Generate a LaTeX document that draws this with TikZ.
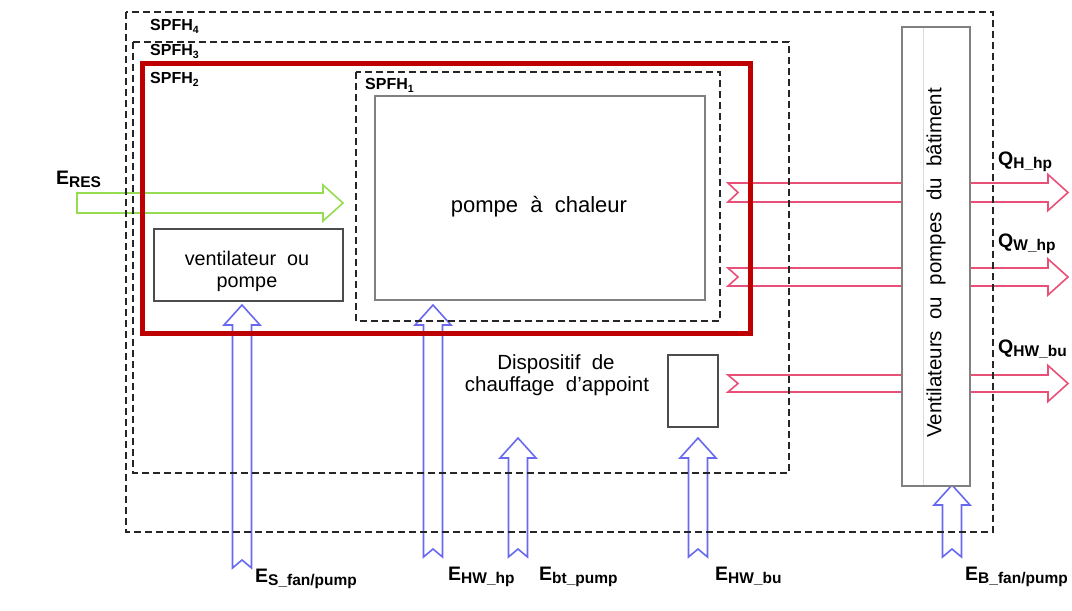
\documentclass[tikz,border=0pt]{standalone}
\usepackage{fontspec}
\setmainfont{Liberation Sans}
\definecolor{pinkc}{RGB}{232,80,120}
\definecolor{bluec}{RGB}{105,105,240}
\definecolor{greenc}{RGB}{150,220,80}
\definecolor{redc}{RGB}{190,0,0}
\newcommand\harrow[8]{% style, x1, x2, y, w, h, L, n
  \draw[#1] ({#2},{#4-#5}) -- ({#3-#7},{#4-#5}) -- ({#3-#7},{#4-#6}) -- ({#3},{#4})
    -- ({#3-#7},{#4+#6}) -- ({#3-#7},{#4+#5}) -- ({#2},{#4+#5}) -- ({#2+#8},{#4}) -- cycle;}
\newcommand\uparr[8]{% style, x, ytail, ytip, w, h, L, n
  \draw[#1] ({#2-#5},{#3}) -- ({#2-#5},{#4+#7}) -- ({#2-#6},{#4+#7}) -- ({#2},{#4})
    -- ({#2+#6},{#4+#7}) -- ({#2+#5},{#4+#7}) -- ({#2+#5},{#3}) -- ({#2},{#3-#8}) -- cycle;}
\newcommand\lab[2]{{\fontsize{19.5}{19}\selectfont\bfseries #1}\raisebox{-3.5pt}{\fontsize{15.5}{15}\selectfont\bfseries #2}}
\newcommand\spfh[1]{{\fontsize{16}{16}\selectfont\bfseries SPFH\raisebox{-3pt}{\fontsize{10.5}{10}\selectfont #1}}}
\begin{document}
\begin{tikzpicture}[x=1pt,y=-1pt,
  dashbox/.style={draw=black!85, line width=1.8pt, dash pattern=on 7pt off 4pt},
  redbox/.style={draw=redc, line width=5pt},
  graybox/.style={draw=black!50, line width=1.3pt},
  darkbox/.style={draw=black!70, line width=1.3pt},
  pinkarr/.style={draw=pinkc, line width=1.6pt, line join=miter},
  bluearr/.style={draw=bluec, line width=1.6pt, line join=miter},
  greenarr/.style={draw=greenc, line width=1.6pt, line join=miter},
  txt/.style={inner sep=0pt, font=\fontsize{22}{22}\selectfont, align=center},
  lbl/.style={inner sep=0pt, anchor=base west}]
\useasboundingbox (0,0) rectangle (1072,611);
\fill[white] (0,0) rectangle (1072,611);

% input / output arrows
\harrow{greenarr}{77}{343}{203}{10}{18}{20}{0}
\harrow{pinkarr}{728}{1068}{192.5}{9.5}{18}{20}{10}
\harrow{pinkarr}{728}{1068}{277}{9}{18}{20}{10}
\harrow{pinkarr}{728}{1068}{383.5}{8.5}{18}{20}{10}
\uparr{bluearr}{242}{568}{305}{9.5}{18}{20}{8}
\uparr{bluearr}{433}{557}{305}{9.5}{18}{20}{8}
\uparr{bluearr}{518}{557}{438}{9.5}{18}{20}{8}
\uparr{bluearr}{698}{557}{438}{9.5}{18}{20}{8}
\uparr{bluearr}{952}{557}{485}{9.5}{18}{20}{8}

% system boundaries
\draw[dashbox] (126,12) rectangle (993,532);
\draw[dashbox] (133,42) rectangle (789,473);
\draw[redbox] (142,63) rectangle (750,333);
\draw[dashbox] (356,72) rectangle (720,321);

% components
\draw[graybox] (375,96) rectangle (705,300);
\draw[darkbox] (154,229) rectangle (343,301);
\draw[darkbox] (668,355) rectangle (718,427);
\draw[graybox, fill=white] (902,27) rectangle (970,486);
\draw[black!15, line width=1pt] (923,28) -- (923,485);

% texts
\node[lbl] (s4) at (150,30) {\spfh{4}};
\node[lbl] (s3) at (150,55) {\spfh{3}};
\node[lbl] (s2) at (150,83) {\spfh{2}};
\node[lbl] (s1) at (365,89) {\spfh{1}};
\node[txt, anchor=base] (hp) at (539,212) {pompe\ \ à\ \ chaleur};
\node[txt, anchor=base, font=\fontsize{19.8}{22}\selectfont] (ven) at (247,265) {ventilateur\ \ ou};
\node[txt, anchor=base, font=\fontsize{19.8}{22}\selectfont] (ven2) at (247,287) {pompe};
\node[txt, anchor=base, font=\fontsize{20.5}{22}\selectfont] (dis) at (556,369) {Dispositif\ \ de};
\node[txt, anchor=base, font=\fontsize{20.5}{22}\selectfont] (dis2) at (557,391) {chauffage\ \ d'appoint};
\node[txt, rotate=90, font=\fontsize{20.5}{22}\selectfont] (vb) at (936,263) {Ventilateurs\ \ ou\ \ pompes\ \ du\ \ bâtiment};

\node[lbl] (eres) at (56,184) {\lab{E}{RES}};
\node[lbl] (qh) at (998,165) {\lab{Q}{H\_hp}};
\node[lbl] (qw) at (998,247) {\lab{Q}{W\_hp}};
\node[lbl] (qhw) at (998,353) {\lab{Q}{HW\_bu}};
\node[lbl] (es) at (255,582) {\lab{E}{S\_fan/pump}};
\node[lbl] (ehw) at (448,580) {\lab{E}{HW\_hp}};
\node[lbl] (ebt) at (539,580) {\lab{E}{bt\_pump}};
\node[lbl] (ehwb) at (715,580) {\lab{E}{HW\_bu}};
\node[lbl] (eb) at (965,580) {\lab{E}{B\_fan/pump}};
\end{tikzpicture}
\end{document}
